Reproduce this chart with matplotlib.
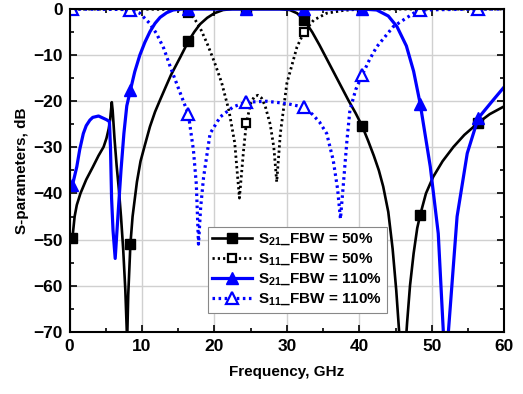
import numpy as np
import matplotlib
matplotlib.use("Agg")
import matplotlib.pyplot as plt

plt.rcParams["font.family"] = ["Liberation Sans", "DejaVu Sans"]
plt.rcParams["font.weight"] = "bold"
plt.rcParams["mathtext.fontset"] = "custom"
plt.rcParams["mathtext.rm"] = "Liberation Sans"

# marker positions shared by all curves (GHz)
mark_x = [0.4, 8.4, 16.4, 24.4, 32.4, 40.4, 48.4, 56.4]

# S21, FBW = 50%
f_s21_50 = [0.4, 0.7, 1.0, 1.5, 2.3, 3.2, 4.0, 4.7, 5.1, 5.4, 5.6, 5.83, 5.95, 6.2,
            6.5, 6.8, 7.1, 7.4, 7.7, 7.95, 8.1, 8.4, 8.7, 9.3, 9.8, 10.4, 11.1, 11.8,
            12.5, 13.3, 14.0, 14.7, 15.3, 16.4, 17.2, 18.0, 19.0, 20.0, 21.2, 22.5,
            24.4, 29.0, 30.4, 31.4, 32.4, 33.5, 34.5, 35.5, 36.5, 37.5, 38.5, 39.5,
            40.4, 41.2, 42.0, 42.7, 43.3, 44.0, 44.6, 45.1, 45.5, 45.9, 46.3, 46.6,
            47.0, 47.5, 48.0, 48.4, 49.2, 50.2, 51.5, 53.0, 54.5, 56.4, 58.0, 60.0]
s21_50 = [-49.6, -45.0, -42.5, -40.0, -37.0, -34.3, -31.8, -29.9, -28.0, -26.0, -24.0,
          -20.2, -22.0, -28.0, -34.0, -39.0, -45.0, -52.0, -61.0, -72.0, -62.0, -51.0,
          -45.0, -37.5, -33.0, -29.5, -25.5, -22.3, -19.7, -16.8, -14.3, -12.2, -10.4,
          -7.0, -5.0, -3.3, -1.9, -0.9, -0.2, 0.0, 0.0, 0.0, -0.2, -0.9, -2.4, -5.0,
          -7.8, -10.8, -13.8, -16.8, -19.8, -22.6, -25.4, -28.5, -31.8, -35.0, -38.5,
          -44.0, -52.0, -61.0, -70.0, -80.0, -75.0, -68.0, -60.0, -53.0, -47.5, -44.7,
          -40.0, -36.4, -33.0, -29.9, -27.3, -24.7, -22.8, -21.1]

# S11, FBW = 50%
f_s11_50 = [0.4, 8.4, 15.0, 16.4, 17.0, 18.0, 19.0, 20.0, 21.0, 22.0, 22.8, 23.45, 24.0,
            24.4, 25.0, 25.5, 26.0, 26.5, 27.0, 27.7, 28.2, 28.6, 29.1, 30.0, 31.4,
            32.4, 33.7, 35.5, 37.8, 40.4, 48.4, 56.4, 60.0]
s11_50 = [0.0, 0.0, -0.1, -0.8, -1.5, -4.0, -7.5, -11.5, -16.0, -22.0, -29.0, -41.0,
          -31.0, -24.8, -20.5, -19.0, -18.7, -19.3, -21.0, -25.0, -30.0, -37.5, -27.0,
          -16.1, -8.2, -4.9, -2.4, -0.9, -0.3, 0.0, 0.0, 0.0, 0.0]

# S21, FBW = 110%
f_s21_110 = [0.4, 1.0, 1.4, 1.9, 2.3, 2.8, 3.2, 4.0, 5.1, 5.5, 5.65, 5.8, 6.0, 6.3,
             6.55, 6.8, 7.1, 7.5, 7.9, 8.4, 9.0, 9.7, 10.4, 11.1, 11.8, 12.5, 13.4,
             14.3, 15.5, 16.4, 24.4, 32.4, 40.4, 42.4, 44.0, 45.2, 46.5, 47.5, 48.4,
             49.8, 50.9, 51.6, 51.95, 52.3, 53.5, 54.9, 56.4, 58.5, 60.0]
s21_110 = [-38.2, -34.2, -30.5, -27.0, -25.3, -24.1, -23.5, -23.2, -24.0, -24.4, -30.0,
           -41.0, -48.0, -54.1, -48.0, -42.0, -35.0, -27.0, -21.0, -17.6, -13.6, -10.0,
           -7.2, -4.9, -3.1, -1.8, -0.8, -0.2, 0.0, 0.0, 0.0, 0.0, 0.0, -0.2, -1.5,
           -3.8, -8.0, -13.5, -20.5, -34.2, -48.7, -70.0, -85.0, -70.0, -45.0, -31.3,
           -23.7, -19.7, -16.9]

# S11, FBW = 110%
f_s11_110 = [0.4, 8.4, 9.7, 11.0, 12.0, 13.0, 13.9, 15.3, 16.4, 17.1, 17.5, 17.8, 18.1,
             18.5, 19.4, 20.8, 22.6, 24.4, 27.2, 30.0, 32.4, 33.5, 34.5, 35.5, 36.4,
             37.0, 37.4, 37.8, 38.3, 38.7, 39.5, 40.4, 41.4, 42.4, 44.7, 47.5, 48.4,
             56.4, 60.0]
s11_110 = [0.0, -0.1, -0.9, -3.0, -5.3, -8.5, -12.5, -18.3, -22.8, -30.6, -38.0, -51.0,
           -43.0, -36.5, -27.0, -23.4, -21.2, -20.2, -20.0, -20.5, -21.3, -22.8, -24.5,
           -27.0, -32.8, -39.0, -45.5, -38.0, -28.4, -22.0, -17.5, -14.3, -11.0, -8.2,
           -3.8, -0.9, -0.2, 0.0, 0.0]

labels = [r"S$_{21}$_FBW = 50%", r"S$_{11}$_FBW = 50%",
          r"S$_{21}$_FBW = 110%", r"S$_{11}$_FBW = 110%"]


def marks(f):
    return np.isin(np.array(f), mark_x)


fig = plt.figure(figsize=(5.23, 3.94), dpi=100)
ax = fig.add_axes([0.133, 0.158, 0.831, 0.819])

dots = (0, (0.8, 1.1))
ax.plot(f_s21_50, s21_50, color="black", lw=1.9, marker="s", ms=7,
        markevery=marks(f_s21_50), label=labels[0])
ax.plot(f_s11_50, s11_50, color="black", lw=2.0, ls=dots, marker="s", ms=6,
        mfc="white", mew=1.6, markevery=marks(f_s11_50), label=labels[1])
ax.plot(f_s21_110, s21_110, color="blue", lw=2.3, marker="^", ms=9,
        markevery=marks(f_s21_110), label=labels[2])
ax.plot(f_s11_110, s11_110, color="blue", lw=2.3, ls=dots, marker="^", ms=8,
        mfc="white", mew=1.6, markevery=marks(f_s11_110), label=labels[3])

ax.set_xlim(0, 60)
ax.set_ylim(-70, 0)
ax.set_xticks(np.arange(0, 61, 10))
ax.set_yticks(np.arange(-70, 1, 10))
ax.set_xticks(np.arange(5, 60, 10), minor=True)
ax.set_yticks(np.arange(-65, 0, 10), minor=True)
ax.grid(True, which="major", color="#d0d0d0", lw=1.0)
ax.set_axisbelow(True)
ax.tick_params(which="both", direction="in", top=True, right=True, width=1.2)
ax.tick_params(which="major", length=5, labelsize=12.5, pad=5)
ax.tick_params(which="minor", length=3)
for lab in ax.get_xticklabels() + ax.get_yticklabels():
    lab.set_fontweight("bold")
for sp in ax.spines.values():
    sp.set_linewidth(1.5)

ax.set_xlabel("Frequency, GHz", fontsize=11, fontweight="bold", labelpad=8)
ax.set_ylabel("S-parameters, dB", fontsize=11, fontweight="bold", labelpad=3)

leg = ax.legend(loc="lower left", bbox_to_anchor=(0.318, 0.058), fancybox=False,
                edgecolor="#888888", framealpha=1, handlelength=2.6,
                prop={"weight": "bold", "size": 11}, borderpad=0.3,
                labelspacing=0.25, handletextpad=0.4, borderaxespad=0)
leg.get_frame().set_linewidth(0.8)

fig.savefig("out.png", dpi=100)
